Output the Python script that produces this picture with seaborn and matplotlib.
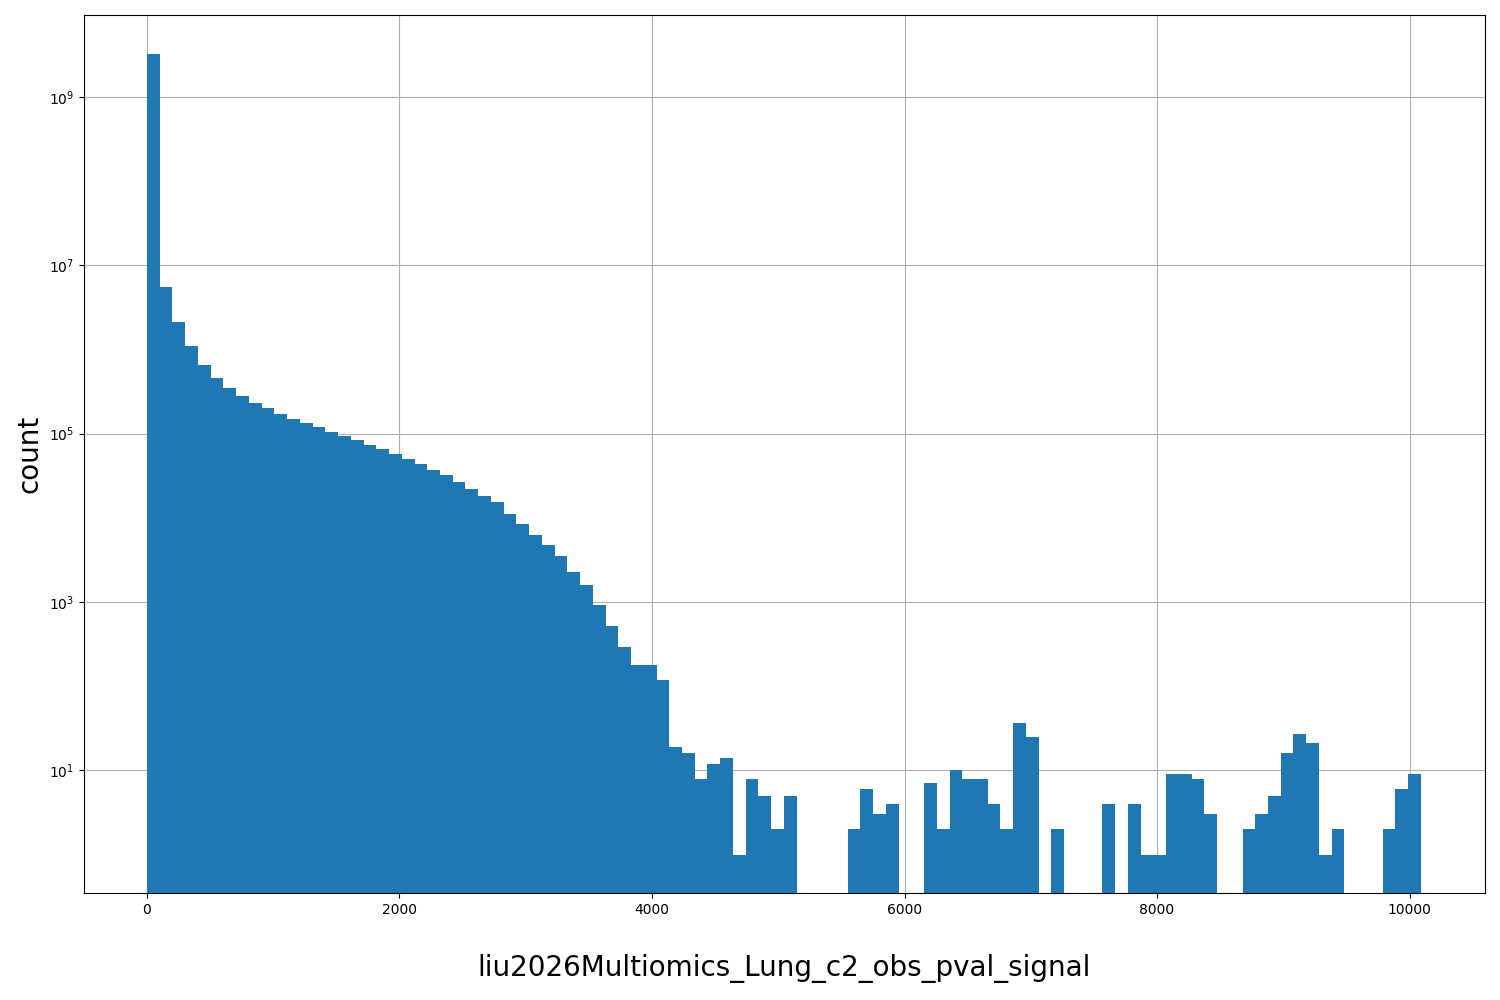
import numpy as np
import pandas as pd
import matplotlib
matplotlib.use("Agg")
import matplotlib.pyplot as plt
import seaborn as sns

bin_width = 100.9
n_bins = 100
counts = [3.2e9, 5.5e6, 2.1e6, 1.1e6, 6.6e5, 4.6e5, 3.5e5, 2.8e5, 2.3e5, 2.0e5,
          1.7e5, 1.5e5, 1.35e5, 1.2e5, 1.05e5, 9.5e4, 8.5e4, 7.4e4, 6.5e4, 5.8e4,
          5.0e4, 4.4e4, 3.7e4, 3.2e4, 2.7e4, 2.2e4, 1.8e4, 1.55e4, 1.1e4, 8.5e3,
          6.3e3, 4.8e3, 3.5e3, 2.3e3, 1.6e3, 920, 520, 290, 180, 180,
          120, 19, 16, 8, 12, 14, 1, 8, 5, 2,
          5, 0, 0, 0, 0, 2, 6, 3, 4, 0,
          0, 7, 2, 10, 8, 8, 4, 2, 37, 25,
          0, 2, 0, 0, 0, 4, 0, 4, 1, 1,
          9, 9, 8, 3, 0, 0, 2, 3, 5, 16,
          27, 21, 1, 2, 0, 0, 0, 2, 6, 9]

edges = np.arange(n_bins + 1) * bin_width
centers = (edges[:-1] + edges[1:]) / 2
df = pd.DataFrame({"signal": centers, "count": counts})

fig = plt.figure(figsize=(15, 10), dpi=100)
ax = fig.add_axes([0.056, 0.107, 0.934, 0.878])
sns.histplot(data=df, x="signal", weights="count", bins=n_bins,
             binrange=(0, n_bins * bin_width), ax=ax, color="#1f77b4",
             alpha=1, linewidth=0)
ax.set_yscale("log")
ax.set_ylim(0.35, 9.4e9)
ax.set_xlim(-499, 10598)
ax.grid(True, color="#b0b0b0", linewidth=0.8)
ax.set_axisbelow(True)
ax.set_xlabel("liu2026Multiomics_Lung_c2_obs_pval_signal", fontsize=20, labelpad=27)
ax.set_ylabel("count", fontsize=20)
fig.savefig("out.png")
